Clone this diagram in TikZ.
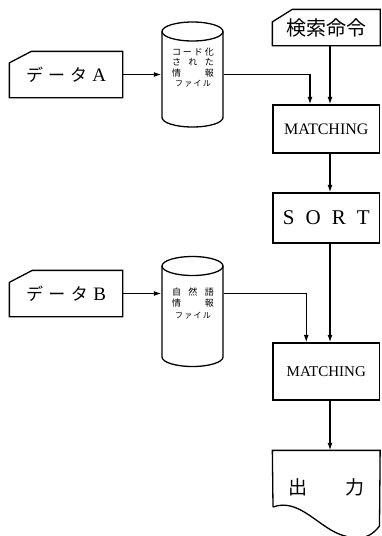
\documentclass[tikz,border=0pt]{standalone}
\usepackage{fontspec}
\setmainfont{Liberation Serif}
\newfontfamily\jp{Noto Sans CJK JP}
\usetikzlibrary{arrows.meta}
\begin{document}
\begin{tikzpicture}[x=1pt,y=-1pt,line width=1.3pt,
  arr/.style={-{Latex[length=7.5pt,width=5pt]}},
  box/.style={draw,inner sep=0pt,minimum width=106.5pt},
  ghost/.style={inner sep=0pt},
  cyltext/.style={inner sep=0pt,font=\jp\fontsize{9}{10.5}\selectfont,align=center}]
\useasboundingbox (0,0) rectangle (381,536);
\clip (0,0) rectangle (381,536);

% search command card
\node[ghost,minimum width=106.5pt,minimum height=35pt] (ken) at (326.25,27.5)
  {\jp\fontsize{20}{20}\selectfont 検索命令};
\draw (ken.north west) ++(0,12.5) -- ++(20,-12.5) -- (ken.north east) -- (ken.south east) -- (ken.south west) -- cycle;

% data A card
\node[ghost,minimum width=112pt,minimum height=45pt] (dataA) at (66,74.5)
  {\makebox[80pt][s]{\jp\fontsize{17}{17}\selectfont デ\hfill ー\hfill タ\hfill\fontspec{Liberation Serif}\fontsize{19}{19}\selectfont A}};
\draw (dataA.north west) ++(0,11.5) -- ++(22,-11.5) -- (dataA.north east) -- (dataA.south east) -- (dataA.south west) -- cycle;

% data B card
\node[ghost,minimum width=112pt,minimum height=45pt] (dataB) at (66,293.5)
  {\makebox[80pt][s]{\jp\fontsize{17}{17}\selectfont デ\hfill ー\hfill タ\hfill\fontspec{Liberation Serif}\fontsize{19}{19}\selectfont B}};
\draw (dataB.north west) ++(0,12) -- ++(23,-12) -- (dataB.north east) -- (dataB.south east) -- (dataB.south west) -- cycle;

% cylinder A
\node[ghost,minimum width=61pt,minimum height=105pt] (cylA) at (192.5,74.5) {};
\draw (192.5,31.5) ellipse [x radius=30.5, y radius=9.5];
\draw (162,31.5) -- (162,117.5) arc[start angle=180,end angle=0,x radius=30.5,y radius=9.5] -- (223,31.5);
\node[cyltext] (cylAtext) at (193,67.5) {%
  \makebox[42pt][s]{コ\hfill ー\hfill ド\hfill 化}\\
  \makebox[42pt][s]{さ\hfill れ\hfill た}\\
  \makebox[42pt][s]{情\hfill 報}\\
  \makebox[36pt][s]{\fontsize{8}{10.5}\selectfont フ\hfill ァ\hfill イ\hfill ル}\hspace{6pt}};

% cylinder B
\node[ghost,minimum width=61pt,minimum height=110pt] (cylB) at (192.5,311.5) {};
\draw (192.5,266) ellipse [x radius=30.5, y radius=9.5];
\draw (162,266) -- (162,357) arc[start angle=180,end angle=0,x radius=30.5,y radius=9.5] -- (223,266);
\node[cyltext] (cylBtext) at (193,303.5) {%
  \makebox[42pt][s]{自\hfill 然\hfill 語}\\
  \makebox[42pt][s]{情\hfill 報}\\[1.5pt]
  \makebox[36pt][s]{\fontsize{8}{10.5}\selectfont フ\hfill ァ\hfill イ\hfill ル}\hspace{6pt}};

% process boxes
\node[box,minimum height=48pt,font=\fontsize{16}{16}\selectfont] (m1) at (326.25,129) {MATCHING};
\node[box,minimum height=50pt,font=\fontsize{21}{21}\selectfont] (sort) at (326.25,218)
  {\makebox[87pt][s]{S\hfill O\hfill R\hfill T}};
\node[box,minimum height=57pt,font=\fontsize{15}{15}\selectfont] (m2) at (326.25,371.5) {MATCHING};

% output document
\node[ghost,minimum width=106.5pt,minimum height=72pt] (outp) at (326.25,487)
  {\makebox[76pt][s]{\jp\fontsize{19}{19}\selectfont 出\hfill 力}};
\draw (273,507) -- (outp.north west) -- (outp.north east) -- (379.5,526)
  .. controls (372,536) and (362,541) .. (345,536)
  .. controls (320,530) and (300,497) .. (273,507);

% connectors
\draw[arr] (dataA.east) -- (dataA.east -| cylA.west);
\draw[arr] (dataA.east -| cylA.east) -| ([xshift=-16.25pt]m1.north);
\draw[arr] ([xshift=3.75pt]ken.south) -- ([xshift=3.75pt]m1.north);
\draw[arr] ([xshift=3.75pt]m1.south) -- ([xshift=3.75pt]sort.north);
\draw[arr] ([xshift=3.75pt]sort.south) -- ([xshift=3.75pt]m2.north);
\draw[arr] (dataB.east) -- (dataB.east -| cylB.west);
\draw[arr] (dataB.east -| cylB.east) -| ([xshift=-20pt]m2.north);
\draw[arr] ([xshift=3.75pt]m2.south) -- ([xshift=3.75pt]outp.north);
\end{tikzpicture}
\end{document}
